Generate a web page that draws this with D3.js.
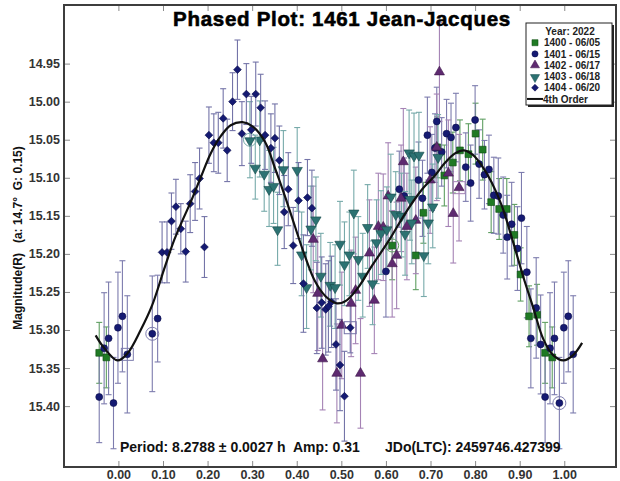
<!DOCTYPE html>
<html>
<head>
<meta charset="utf-8">
<script src="https://cdn.jsdelivr.net/npm/d3@7"></script>
<style>
  html, body { margin: 0; padding: 0; background: #fff; }
  svg { display: block; font-family: "Liberation Sans", Arial, sans-serif; }
</style>
</head>
<body>
<svg id="chart" width="620" height="481"></svg>
<script>
// Tick values
const phaseTicks = [0.0, 0.1, 0.2, 0.3, 0.4, 0.5, 0.6, 0.7, 0.8, 0.9, 1.0];
const magTicks = [14.95, 15.00, 15.05, 15.10, 15.15, 15.20, 15.25, 15.30, 15.35, 15.40];

// Observations per session: [phase, magnitude, error, flag]
const night1400 = [
  [0.957,15.330,0.040],[0.973,15.336,0.040],[0.614,15.189,0.045,"ring"],[0.667,15.202,0.045],
  [0.684,15.146,0.040],[0.715,15.060,0.040],[0.731,15.097,0.040],[0.750,15.080,0.040],
  [0.766,15.064,0.040],[0.785,15.069,0.040],[0.801,15.042,0.040],[0.817,15.063,0.040],
  [0.836,15.132,0.040],[0.854,15.141,0.040],[0.871,15.141,0.040],[0.888,15.175,0.040],
  [0.902,15.227,0.035],[0.921,15.282,0.040],[0.939,15.280,0.040]
];
const night1401 = [
  [0.076,15.305,0.076,"ring"],[0.088,15.285,0.057],
  [0.600,15.223,0.060],[0.630,15.115,0.050],[0.641,15.124,0.050],[0.673,15.103,0.050],
  [0.682,15.127,0.050],[0.693,15.044,0.050],[0.703,15.093,0.050],[0.710,15.061,0.045],
  [0.714,15.026,0.045],[0.725,15.066,0.045],[0.736,15.042,0.045],[0.746,15.047,0.045],
  [0.757,15.034,0.045],[0.779,15.086,0.045],[0.790,15.107,0.050],[0.800,15.024,0.045],
  [0.809,15.082,0.045],[0.821,15.096,0.045],[0.831,15.089,0.045],[0.842,15.123,0.050],
  [0.852,15.124,0.050],[0.863,15.149,0.050],[0.872,15.178,0.055],[0.882,15.161,0.055],
  [0.895,15.193,0.055],[0.904,15.153,0.060],[0.916,15.224,0.060],[0.925,15.311,0.065],
  [0.937,15.271,0.066],[0.947,15.319,0.065],[0.957,15.388,0.060],[0.968,15.324,0.073],
  [0.978,15.311,0.074],[0.989,15.396,0.060,"ring"],[0.999,15.297,0.073],[0.009,15.282,0.073],
  [0.020,15.332,0.077,"box"]
];
const night1402 = [
  [0.437,15.181,0.070],[0.447,15.252,0.075],[0.458,15.338,0.067],[0.490,15.357,0.065],
  [0.501,15.294,0.070],[0.522,15.265,0.070],[0.532,15.248,0.070],[0.543,15.357,0.072],
  [0.563,15.199,0.070],[0.574,15.261,0.070],[0.583,15.164,0.070],[0.594,15.165,0.070],
  [0.605,15.124,0.070],[0.614,15.213,0.070],[0.624,15.202,0.070],[0.634,15.127,0.070],
  [0.639,15.079,0.070],[0.647,15.164,0.070],[0.667,15.156,0.070],[0.699,15.103,0.070],
  [0.714,15.060,0.070],[0.720,14.961,0.065],[0.740,15.094,0.070],[0.751,15.147,0.065],
  [0.764,15.113,0.070,"box"]
];
const night1403 = [
  [0.295,15.050,0.050,"ring"],[0.307,15.086,0.042],[0.317,15.049,0.050],[0.327,15.094,0.050],
  [0.338,15.114,0.050],[0.348,15.110,0.050],[0.357,15.167,0.048],[0.370,15.088,0.050],
  [0.401,15.089,0.055],[0.411,15.200,0.055],[0.422,15.243,0.055],[0.432,15.166,0.055],
  [0.443,15.154,0.055],[0.454,15.228,0.055],[0.475,15.240,0.055],[0.486,15.243,0.055],
  [0.497,15.186,0.055],[0.507,15.213,0.055],[0.518,15.200,0.055],[0.528,15.145,0.055],
  [0.538,15.206,0.055],[0.548,15.228,0.055],[0.559,15.164,0.055],[0.570,15.238,0.055],
  [0.579,15.184,0.055],[0.589,15.172,0.055],[0.602,15.167,0.055],[0.611,15.124,0.055],
  [0.622,15.147,0.055],[0.635,15.149,0.055],[0.643,15.173,0.055],[0.652,15.066,0.055],
  [0.654,15.127,0.055],[0.658,15.158,0.055],[0.663,15.070,0.055],[0.674,15.069,0.055],
  [0.685,15.201,0.055],[0.695,15.158,0.055],[0.705,15.137,0.055],[0.717,15.072,0.055]
];
const night1404 = [
  [0.098,15.198,0.040],[0.109,15.198,0.040],[0.119,15.157,0.037],[0.129,15.138,0.036],
  [0.140,15.167,0.033],[0.151,15.197,0.040],[0.161,15.134,0.038],[0.172,15.118,0.038],
  [0.182,15.101,0.040],[0.193,15.191,0.040],[0.203,15.044,0.037],[0.214,15.054,0.038],
  [0.224,15.054,0.040],[0.235,15.022,0.039],[0.244,15.064,0.041],[0.256,15.000,0.038],
  [0.267,14.958,0.039],[0.277,15.042,0.042],[0.287,14.990,0.040],[0.298,15.037,0.044],
  [0.308,14.990,0.042],[0.319,15.008,0.044],[0.329,15.044,0.045],[0.342,15.061,0.045],
  [0.351,15.048,0.045],[0.361,15.077,0.045],[0.372,15.145,0.048],[0.381,15.115,0.048],
  [0.392,15.189,0.050],[0.404,15.130,0.050],[0.415,15.239,0.064],[0.424,15.126,0.050],
  [0.434,15.140,0.050],[0.445,15.271,0.060],[0.456,15.264,0.060],[0.465,15.273,0.060],
  [0.471,15.269,0.060],[0.478,15.263,0.060],[0.488,15.319,0.060],[0.497,15.346,0.060],
  [0.507,15.387,0.059],[0.520,15.297,0.033,"box"]
];

// 4th order fit, sampled [phase, magnitude]
const fitCurve = [
  [-0.051,15.307],[-0.034,15.322],[-0.002,15.340],[0.020,15.331],[0.050,15.300],[0.076,15.267],
  [0.102,15.221],[0.125,15.182],[0.140,15.161],[0.162,15.132],[0.185,15.099],[0.207,15.068],
  [0.230,15.045],[0.252,15.031],[0.278,15.027],[0.300,15.032],[0.329,15.053],[0.351,15.087],
  [0.374,15.125],[0.396,15.164],[0.419,15.204],[0.441,15.236],[0.465,15.256],[0.490,15.265],
  [0.512,15.261],[0.538,15.244],[0.566,15.218],[0.605,15.184],[0.643,15.147],[0.680,15.116],
  [0.710,15.097],[0.733,15.080],[0.755,15.068],[0.775,15.064],[0.795,15.070],[0.815,15.084],
  [0.837,15.106],[0.860,15.137],[0.882,15.178],[0.908,15.230],[0.930,15.270],[0.953,15.312],
  [0.975,15.333],[0.998,15.340],[1.020,15.333],[1.040,15.317]
];

const series = [
  { name: "1400 - 06/05", data: night1400, symbol: d3.symbolSquare, size: 46, rot: 0,  dy: 0, fill: "#1f7a24", stroke: "#0d4a10", bar: "#5f9f62" },
  { name: "1401 - 06/15", data: night1401, symbol: d3.symbolCircle, size: 38, rot: 0,  dy: 0, fill: "#151a72", stroke: "#0b0e4a", bar: "#7d7cae" },
  { name: "1402 - 06/17", data: night1402, symbol: d3.symbolTriangle, size: 44, rot: 0, dy: 0, fill: "#5e2a70", stroke: "#3c1548", bar: "#a583b5" },
  { name: "1403 - 06/18", data: night1403, symbol: d3.symbolTriangle, size: 46, rot: 180, dy: 1, fill: "#2c7272", stroke: "#144848", bar: "#77aaaa" },
  { name: "1404 - 06/20", data: night1404, symbol: d3.symbolSquare, size: 30, rot: 45, dy: 0, fill: "#151a72", stroke: "#0b0e4a", bar: "#7474a8" }
];

const svg = d3.select("#chart");
const plotLeft = 64, plotRight = 616, plotTop = 5, plotBottom = 467;

const x = d3.scaleLinear().domain([-0.122, 1.116]).range([plotLeft, plotRight]);
const y = d3.scaleLinear().domain([14.873, 15.480]).range([plotTop, plotBottom]);

// Phase wrap window shown on the plot; wrapped copies carry no flag
const wrapLo = -0.05, wrapHi = 1.025;
function expand(d) {
  const out = [d];
  if (d[0] - 1 >= wrapLo) out.push([d[0] - 1, d[1], d[2]]);
  if (d[0] + 1 <= wrapHi) out.push([d[0] + 1, d[1], d[2]]);
  return out;
}

svg.append("rect").attr("width", 620).attr("height", 481).attr("fill", "#fff");

// Axes (ticks point inward)
const axisFont = g => g.selectAll("text")
  .attr("font-family", "Liberation Sans, Arial, sans-serif")
  .attr("font-size", "12.5px").attr("font-weight", "bold").attr("fill", "#333");
const tickStyle = g => { g.select(".domain").remove(); g.selectAll(".tick line").attr("stroke", "#8a8a8a"); };

svg.append("g").attr("transform", `translate(${plotLeft},0)`)
  .call(d3.axisLeft(y).tickValues(magTicks).tickFormat(d3.format(".2f")).tickSize(-6).tickPadding(4))
  .call(tickStyle).call(axisFont);
svg.append("g").attr("transform", `translate(${plotRight},0)`)
  .call(d3.axisRight(y).tickValues(magTicks).tickFormat("").tickSize(-6))
  .call(tickStyle);
svg.append("g").attr("transform", `translate(0,${plotBottom})`)
  .call(d3.axisBottom(x).tickValues(phaseTicks).tickFormat(d3.format(".2f")).tickSize(-6).tickPadding(3))
  .call(tickStyle).call(axisFont);
svg.append("g").attr("transform", `translate(0,${plotTop})`)
  .call(d3.axisTop(x).tickValues(phaseTicks).tickFormat("").tickSize(-6))
  .call(tickStyle);

// Error bars
const plot = svg.append("g");
series.forEach(s => {
  const pts = s.data.flatMap(expand);
  const g = plot.append("g").attr("stroke", s.bar).attr("stroke-width", 1.1).attr("fill", "none");
  pts.forEach(d => {
    const cx = x(d[0]), y1 = y(d[1] - d[2]), y2 = y(d[1] + d[2]);
    g.append("line").attr("x1", cx).attr("x2", cx).attr("y1", y1).attr("y2", y2);
    g.append("line").attr("x1", cx - 3).attr("x2", cx + 3).attr("y1", y1).attr("y2", y1);
    g.append("line").attr("x1", cx - 3).attr("x2", cx + 3).attr("y1", y2).attr("y2", y2);
  });
});

// Markers
series.forEach(s => {
  const pts = s.data.flatMap(expand);
  const g = plot.append("g");
  const sym = d3.symbol().type(s.symbol).size(s.size);
  g.selectAll("path").data(pts).join("path")
    .attr("d", sym)
    .attr("transform", d => `translate(${x(d[0])},${y(d[1]) + s.dy}) rotate(${s.rot})`)
    .attr("fill", s.fill).attr("stroke", s.stroke).attr("stroke-width", 0.6);
  g.selectAll("circle.ring").data(pts.filter(d => d[3] === "ring")).join("circle")
    .attr("class", "ring").attr("cx", d => x(d[0])).attr("cy", d => y(d[1])).attr("r", 6.5)
    .attr("fill", "none").attr("stroke", s.bar).attr("stroke-width", 1);
  g.selectAll("rect.box").data(pts.filter(d => d[3] === "box")).join("rect")
    .attr("class", "box").attr("x", d => x(d[0]) - 6).attr("y", d => y(d[1]) - 6)
    .attr("width", 12).attr("height", 12)
    .attr("fill", "none").attr("stroke", s.bar).attr("stroke-width", 1);
});

// Fit curve
const line = d3.line().x(d => x(d[0])).y(d => y(d[1])).curve(d3.curveCatmullRom);
svg.append("path").datum(fitCurve).attr("d", line)
  .attr("fill", "none").attr("stroke", "#111").attr("stroke-width", 2.2);

// Frame
svg.append("rect").attr("x", plotLeft).attr("y", plotTop)
  .attr("width", plotRight - plotLeft).attr("height", plotBottom - plotTop)
  .attr("fill", "none").attr("stroke", "#3d3d3d").attr("stroke-width", 2);

// Title
svg.append("text").attr("x", 342).attr("y", 26).attr("text-anchor", "middle")
  .attr("font-size", "20.5px").attr("font-weight", "bold").attr("fill", "#000")
  .attr("letter-spacing", "0.7px").attr("stroke", "#000").attr("stroke-width", 0.6)
  .text("Phased Plot: 1461 Jean-Jacques");

// Y axis title
svg.append("text").attr("transform", "translate(22,238) rotate(-90)").attr("text-anchor", "middle")
  .attr("font-size", "12px").attr("font-weight", "bold").attr("fill", "#111")
  .attr("xml:space", "preserve")
  .text("Magnitude(R)   (a: 14.7°  G: 0.15)");

// Fit summary
svg.append("text").attr("x", 120).attr("y", 452)
  .attr("font-size", "14px").attr("font-weight", "bold").attr("fill", "#111")
  .attr("xml:space", "preserve")
  .text("Period: 8.2788 ± 0.0027 h  Amp: 0.31");
svg.append("text").attr("x", 385).attr("y", 452)
  .attr("font-size", "14px").attr("font-weight", "bold").attr("fill", "#111")
  .text("JDo(LTC): 2459746.427399");

// Legend
const lg = svg.append("g");
lg.append("rect").attr("x", 528).attr("y", 25).attr("width", 86).attr("height", 82).attr("fill", "#222");
lg.append("rect").attr("x", 526).attr("y", 23).attr("width", 86).attr("height", 82)
  .attr("fill", "#fff").attr("stroke", "#222").attr("stroke-width", 1);
lg.append("text").attr("x", 570).attr("y", 35).attr("text-anchor", "middle")
  .attr("font-size", "10px").attr("font-weight", "bold").attr("fill", "#222").text("Year: 2022");
series.forEach((s, i) => {
  const cy = 42.7 + i * 11.25;
  lg.append("path").attr("d", d3.symbol().type(s.symbol).size(s.size * 0.8))
    .attr("transform", `translate(535,${cy + s.dy * 0.8}) rotate(${s.rot})`)
    .attr("fill", s.fill).attr("stroke", s.stroke).attr("stroke-width", 0.5);
  lg.append("text").attr("x", 544).attr("y", cy + 3.6)
    .attr("font-size", "10px").attr("font-weight", "bold").attr("fill", "#222").text(s.name);
});
const fy = 42.7 + 5 * 11.25;
lg.append("line").attr("x1", 527).attr("x2", 543).attr("y1", fy).attr("y2", fy)
  .attr("stroke", "#111").attr("stroke-width", 2);
lg.append("text").attr("x", 543).attr("y", fy + 3.6)
  .attr("font-size", "10px").attr("font-weight", "bold").attr("fill", "#222").text("4th Order");
</script>
</body>
</html>
